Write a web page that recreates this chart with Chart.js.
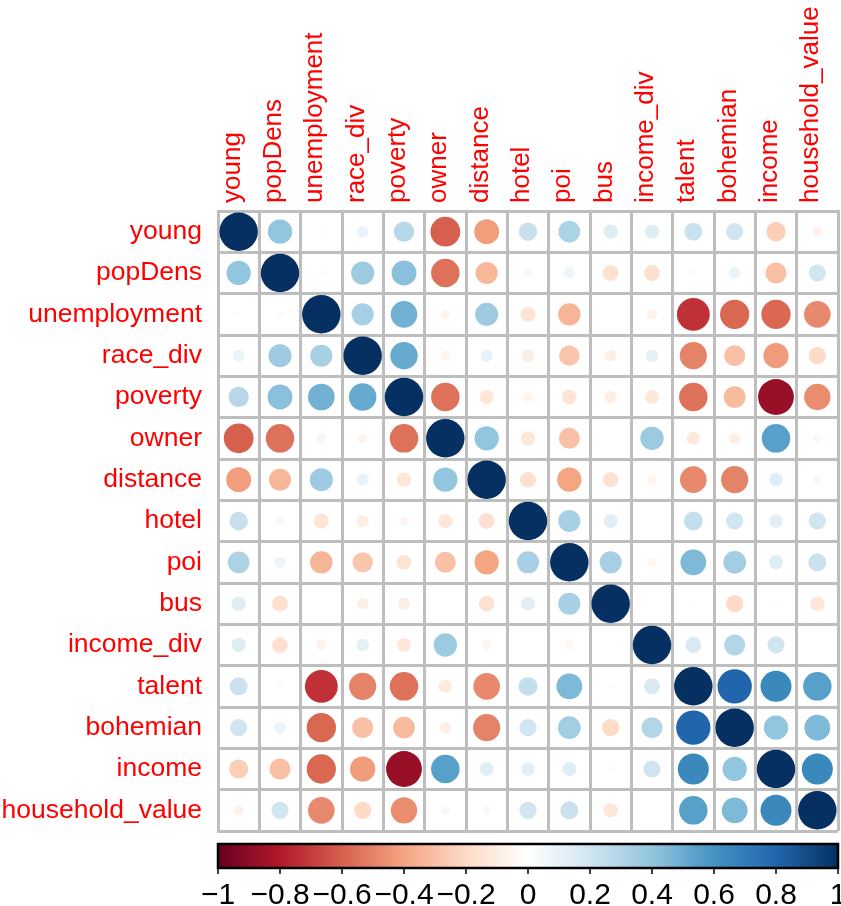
<!DOCTYPE html>
<html>
<head>
<meta charset="utf-8">
<script src="https://cdn.jsdelivr.net/npm/chart.js@4/dist/chart.umd.min.js"></script>
<style>
  html, body { margin: 0; padding: 0; background: #fff; }
  #wrap { width: 841px; height: 906px; }
</style>
</head>
<body>
<div id="wrap"><canvas id="corrChart" width="841" height="906"></canvas></div>
<script>
// variables, in plot order
const vars = ['young', 'popDens', 'unemployment', 'race_div', 'poverty', 'owner', 'distance', 'hotel',
  'poi', 'bus', 'income_div', 'talent', 'bohemian', 'income', 'household_value'];

// upper triangle of the correlation matrix (row i starts at the diagonal)
const rowYoung = [1, 0.40, -0.02, 0.09, 0.28, -0.60, -0.42, 0.23, 0.32, 0.14, 0.14, 0.22, 0.20, -0.25, -0.07];
const rowPopDens = [1, -0.03, 0.36, 0.42, -0.55, -0.33, 0.05, 0.08, -0.17, -0.17, -0.03, 0.09, -0.30, 0.20];
const rowUnemployment = [1, 0.33, 0.48, -0.06, 0.36, -0.15, -0.34, 0.01, -0.07, -0.73, -0.58, -0.58, -0.48];
const rowRaceDiv = [1, 0.51, -0.06, 0.10, -0.10, -0.28, -0.09, 0.11, -0.50, -0.30, -0.43, -0.20];
const rowPoverty = [1, -0.55, -0.14, -0.06, -0.15, -0.10, -0.13, -0.55, -0.32, -0.87, -0.47];
const rowOwner = [1, 0.40, -0.14, -0.30, 0.01, 0.37, -0.12, -0.09, 0.55, 0.05];
const rowDistance = [1, -0.17, -0.40, -0.16, -0.06, -0.48, -0.50, 0.13, 0.05];
const rowHotel = [1, 0.33, 0.13, 0.01, 0.24, 0.20, 0.12, 0.20];
const rowPoi = [1, 0.33, -0.05, 0.45, 0.35, 0.14, 0.22];
const rowBus = [1, 0.00, -0.02, -0.20, 0.02, -0.14];
const rowIncomeDiv = [1, 0.17, 0.30, 0.20, 0.01];
const rowTalent = [1, 0.80, 0.65, 0.55];
const rowBohemian = [1, 0.40, 0.45];
const rowIncome = [1, 0.65];
const rowHousehold = [1];

// colour bar ticks
const barTicks = [-1, -0.8, -0.6, -0.4, -0.2, 0, 0.2, 0.4, 0.6, 0.8, 1];

// RdBu palette used by corrplot, from -1 to 1
const palette = ['#67001F', '#B2182B', '#D6604D', '#F4A582', '#FDDBC7', '#FFFFFF',
  '#D1E5F0', '#92C5DE', '#4393C3', '#2166AC', '#053061'];

const upper = [rowYoung, rowPopDens, rowUnemployment, rowRaceDiv, rowPoverty, rowOwner, rowDistance,
  rowHotel, rowPoi, rowBus, rowIncomeDiv, rowTalent, rowBohemian, rowIncome, rowHousehold];

function corr(i, j) {
  if (j < i) return corr(j, i);
  return upper[i][j - i];
}

function hexToRgb(h) {
  return [parseInt(h.slice(1, 3), 16), parseInt(h.slice(3, 5), 16), parseInt(h.slice(5, 7), 16)];
}

function colorFor(v) {
  const t = (Math.max(-1, Math.min(1, v)) + 1) / 2 * (palette.length - 1);
  const k = Math.min(Math.floor(t), palette.length - 2);
  const f = t - k;
  const a = hexToRgb(palette[k]), b = hexToRgb(palette[k + 1]);
  const c = a.map((x, n) => Math.round(x + (b[n] - x) * f));
  return `rgb(${c[0]},${c[1]},${c[2]})`;
}

const points = [];
vars.forEach((rowName, i) => {
  vars.forEach((colName, j) => {
    points.push({ x: colName, y: rowName, v: corr(i, j) });
  });
});

const fontFamily = "'Liberation Sans', Arial, Helvetica, sans-serif";
const gridGrey = '#BEBEBE';

// circle area follows |r|, diameter of r = 1 is a bit under the cell width
function circleRadius(c) {
  if (!c.raw || !c.chart.scales.x) return 0;
  const cell = c.chart.scales.x.width / vars.length;
  return Math.sqrt(Math.abs(c.raw.v)) * cell * 0.465;
}

// colour bar under the matrix, placed with the cb scale
const colorBar = {
  id: 'colorBar',
  afterDraw(chart) {
    const s = chart.scales.cb;
    const ctx = chart.ctx;
    const y0 = chart.chartArea.bottom + 13;
    const h = 24;
    const g = ctx.createLinearGradient(s.left, 0, s.right, 0);
    palette.forEach((c, n) => g.addColorStop(n / (palette.length - 1), c));
    ctx.save();
    ctx.fillStyle = g;
    ctx.fillRect(s.left, y0, s.right - s.left, h);
    ctx.strokeStyle = '#000';
    ctx.lineWidth = 2.5;
    ctx.strokeRect(s.left, y0, s.right - s.left, h);
    ctx.lineWidth = 1.5;
    barTicks.forEach(t => {
      const x = s.getPixelForValue(t);
      ctx.beginPath();
      ctx.moveTo(x, y0 + h);
      ctx.lineTo(x, y0 + h + 6);
      ctx.stroke();
    });
    ctx.restore();
  }
};

const whiteBg = {
  id: 'whiteBg',
  beforeDraw(chart) {
    const ctx = chart.ctx;
    ctx.save();
    ctx.fillStyle = '#fff';
    ctx.fillRect(0, 0, chart.width, chart.height);
    ctx.restore();
  }
};

function noPad(s) {
  s.paddingLeft = 0;
  s.paddingRight = 0;
  s.paddingTop = 0;
  s.paddingBottom = 0;
}

new Chart(document.getElementById('corrChart'), {
  type: 'scatter',
  data: {
    datasets: [{
      xAxisID: 'x',
      yAxisID: 'y',
      data: points,
      showLine: false,
      pointBackgroundColor: c => (c.raw ? colorFor(c.raw.v) : '#fff'),
      pointBorderWidth: 0,
      pointRadius: circleRadius,
      pointHoverRadius: circleRadius,
      pointHoverBorderWidth: 0
    }]
  },
  options: {
    responsive: false,
    animation: false,
    layout: { padding: { left: 0, right: 3, top: 0, bottom: 0 } },
    plugins: {
      legend: { display: false },
      tooltip: { enabled: false }
    },
    scales: {
      x: {
        type: 'category',
        position: 'top',
        labels: vars,
        offset: true,
        grid: { offset: true, color: gridGrey, lineWidth: 3, drawTicks: false },
        border: { color: gridGrey, width: 3 },
        ticks: {
          color: '#FF0000',
          font: { family: fontFamily, size: 26 },
          minRotation: 90,
          maxRotation: 90,
          autoSkip: false,
          labelOffset: 25,
          padding: 8
        },
        afterFit: s => { s.height = 211; noPad(s); }
      },
      y: {
        type: 'category',
        position: 'left',
        labels: vars,
        offset: true,
        grid: { offset: true, color: gridGrey, lineWidth: 3, drawTicks: false },
        border: { color: gridGrey, width: 3 },
        ticks: {
          color: '#FF0000',
          font: { family: fontFamily, size: 26.5 },
          autoSkip: false,
          padding: 16
        },
        afterFit: s => { s.width = 218; noPad(s); }
      },
      cb: {
        type: 'linear',
        axis: 'x',
        position: 'bottom',
        min: -1,
        max: 1,
        grid: { display: false, drawTicks: false },
        border: { display: false },
        ticks: {
          stepSize: 0.2,
          color: '#000',
          font: { family: fontFamily, size: 30 },
          padding: 47,
          minRotation: 0,
          maxRotation: 0,
          autoSkip: false,
          callback: v => {
            const r = Math.round(v * 10) / 10;
            if (r === 0) return '0';
            return (r < 0 ? '\u2212' : '') + String(Math.abs(r));
          }
        },
        afterFit: s => { s.height = 75; noPad(s); }
      }
    }
  },
  plugins: [whiteBg, colorBar]
});
</script>
</body>
</html>
